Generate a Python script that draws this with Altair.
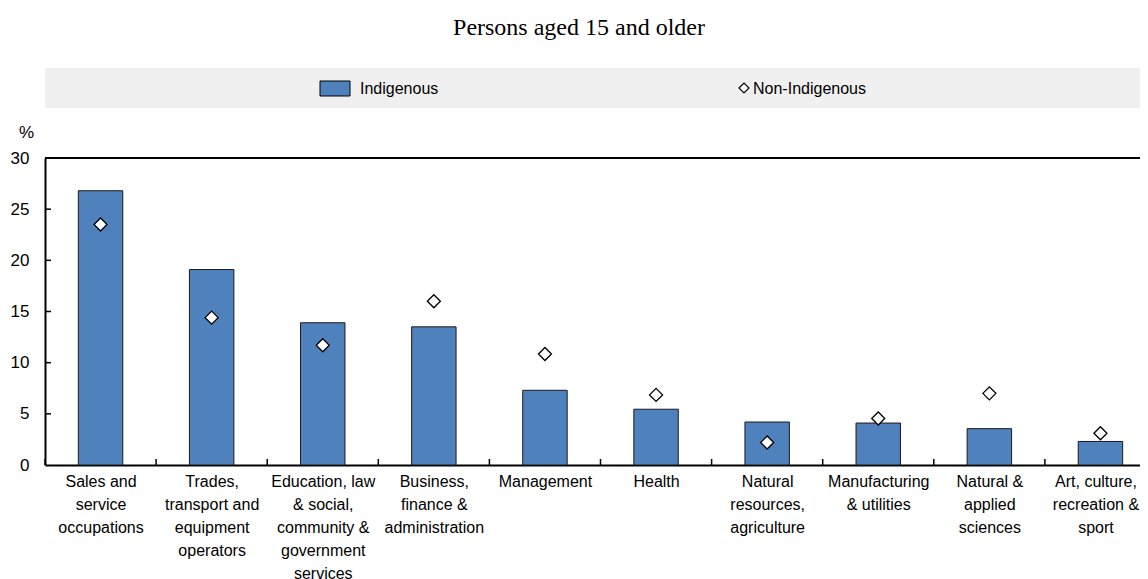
import altair as alt
import pandas as pd

# ---- data ----
categories = [
    "Sales and|service|occupations",
    "Trades,|transport and|equipment|operators",
    "Education, law|& social,|community &|government|services",
    "Business,|finance &|administration",
    "Management",
    "Health",
    "Natural|resources,|agriculture",
    "Manufacturing|& utilities",
    "Natural &|applied|sciences",
    "Art, culture,|recreation &|sport",
]
indigenous = [26.8, 19.1, 13.9, 13.5, 7.3, 5.45, 4.2, 4.1, 3.55, 2.3]
non_indigenous = [23.5, 14.4, 11.7, 16.0, 10.85, 6.85, 2.2, 4.55, 7.0, 3.1]
y_tick_values = [0, 5, 10, 15, 20, 25, 30]
inner_y_ticks = [5, 10, 15, 20, 25]
series_names = ["Indigenous", "Non-Indigenous"]
title_text = "Persons aged 15 and older"
y_unit = "%"

# ---- styling ----
BLUE = "#4F81BD"
FONT = "Liberation Sans, Arial"
SERIF = "Liberation Serif, Times New Roman, serif"
W = 1095          # visible view width (svg must not exceed the page)
XR = 1111         # x range: 10 bands of ~111 px, runs past the page edge
H = 307

df = pd.DataFrame({"cat": categories, "ind": indigenous, "non": non_indigenous})
cats_df = pd.DataFrame({"cat": categories})
yt_df = pd.DataFrame({"v": inner_y_ticks})
one_df = pd.DataFrame({"k": [0]})

last_cat = categories[-1]
x_scale = alt.Scale(paddingInner=0, paddingOuter=0, range=[0, XR])
x_enc = alt.X(
    "cat:N",
    sort=categories,
    scale=x_scale,
    axis=alt.Axis(
        title=None,
        labelAngle=0,
        labelExpr="split(datum.label, '|')",
        labelFont=FONT,
        labelFontSize=16,
        labelLineHeight=23,
        labelColor="#000000",
        labelPadding=8,
        labelBaseline="top",
        labelLimit=200,
        labelOffset=alt.ExprRef("datum.value == '" + last_cat + "' ? -5 : 0"),
        ticks=False,
        tickBand="extent",
        grid=True,
        gridColor="#FFFFFF",
        gridWidth=1.5,
        domainColor="#000000",
        domainWidth=2,
    ),
)

y_scale = alt.Scale(domain=[0, 30], nice=False)

bars = alt.Chart(df).mark_bar(
    width=alt.RelativeBandSize(0.4), color=BLUE, stroke="#1A1A1A", strokeWidth=1
).encode(
    x=x_enc,
    y=alt.Y(
        "ind:Q",
        scale=y_scale,
        axis=alt.Axis(
            values=y_tick_values,
            title=y_unit,
            titleAngle=0,
            titleFont=FONT,
            titleFontSize=17,
            titleFontWeight="normal",
            titleColor="#000000",
            titleAlign="center",
            titleBaseline="middle",
            titleX=-19,
            titleY=-26,
            labelFont=FONT,
            labelFontSize=17,
            labelColor="#000000",
            labelPadding=16,
            ticks=False,
            grid=True,
            gridColor="#FFFFFF",
            gridWidth=1.5,
            domainColor="#000000",
            domainWidth=2,
        ),
    ),
)

points = alt.Chart(df).mark_point(
    shape="diamond", filled=True, fill="#FFFFFF", stroke="#000000", strokeWidth=1.3, size=170, opacity=1
).encode(x=alt.X("cat:N", sort=categories), y=alt.Y("non:Q", scale=y_scale))

x_ticks = alt.Chart(cats_df).mark_rule(color="#000000", strokeWidth=1.5).encode(
    x=alt.X("cat:N", sort=categories, bandPosition=0),
    y=alt.value(H),
    y2=alt.value(H - 6),
)

y_ticks = alt.Chart(yt_df).mark_rule(color="#000000", strokeWidth=1.5).encode(
    y=alt.Y("v:Q", scale=y_scale),
    x=alt.value(0),
    x2=alt.value(6),
)

top_border = alt.Chart(one_df).mark_rule(color="#000000", strokeWidth=2).encode(
    x=alt.value(0), x2=alt.value(XR), y=alt.value(0)
)

# legend band
leg_df = pd.DataFrame({"name": series_names})
band = alt.Chart(leg_df.iloc[[0]]).mark_rect(color="#F0F0F0").encode(
    x=alt.value(0), x2=alt.value(XR), y=alt.value(-90), y2=alt.value(-50)
)
swatch = alt.Chart(leg_df.iloc[[0]]).mark_rect(color=BLUE, stroke="#000000", strokeWidth=1).encode(
    x=alt.value(275), x2=alt.value(305), y=alt.value(-77), y2=alt.value(-62)
)
swatch_txt = alt.Chart(leg_df.iloc[[0]]).mark_text(
    align="left", baseline="middle", font=FONT, fontSize=16, color="#000000"
).encode(text="name:N", x=alt.value(315), y=alt.value(-69))
diamond = alt.Chart(leg_df.iloc[[1]]).mark_point(
    shape="diamond", filled=True, fill="#FFFFFF", stroke="#000000", strokeWidth=1.2, size=100, opacity=1
).encode(x=alt.value(699), y=alt.value(-70))
diamond_txt = alt.Chart(leg_df.iloc[[1]]).mark_text(
    align="left", baseline="middle", font=FONT, fontSize=16, color="#000000"
).encode(text="name:N", x=alt.value(708), y=alt.value(-69))

title_df = pd.DataFrame({"t": [title_text]})
title = alt.Chart(title_df).mark_text(
    align="center", baseline="middle", font=SERIF, fontSize=24, color="#000000"
).encode(text="t:N", x=alt.value(534), y=alt.value(-130))

chart = alt.layer(
    band, swatch, swatch_txt, diamond, diamond_txt, title, bars, points, x_ticks, y_ticks, top_border
).properties(
    width=W,
    height=H,
    autosize=alt.AutoSizeParams(type="none"),
    padding={"left": 37, "top": 150, "right": 0, "bottom": 120},
).configure_view(
    fill="#F4FFFF", strokeWidth=0
).configure(background="#FFFFFF")

chart.save("out.html", embed_options={"renderer": "svg", "actions": False})
